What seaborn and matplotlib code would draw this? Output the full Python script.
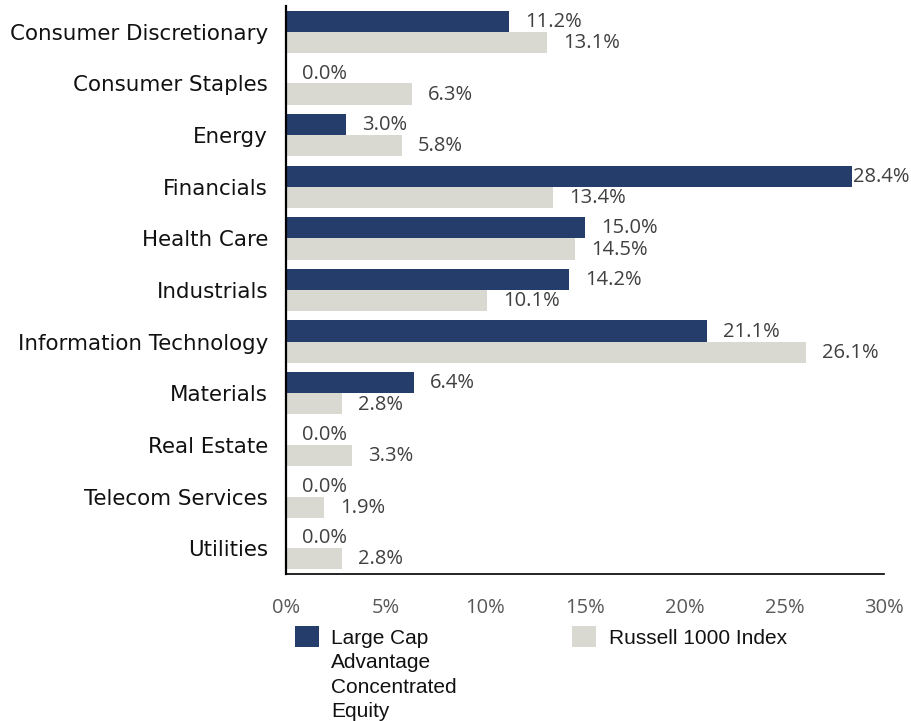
import matplotlib
matplotlib.use("Agg")
import matplotlib.pyplot as plt
from matplotlib.patches import Rectangle
import seaborn as sns
import pandas as pd

categories = ["Consumer Discretionary", "Consumer Staples", "Energy", "Financials",
              "Health Care", "Industrials", "Information Technology", "Materials",
              "Real Estate", "Telecom Services", "Utilities"]
fund_values = [11.2, 0.0, 3.0, 28.4, 15.0, 14.2, 21.1, 6.4, 0.0, 0.0, 0.0]
index_values = [13.1, 6.3, 5.8, 13.4, 14.5, 10.1, 26.1, 2.8, 3.3, 1.9, 2.8]
series_names = ["Large Cap\nAdvantage\nConcentrated\nEquity", "Russell 1000 Index"]
x_ticks = [0, 5, 10, 15, 20, 25, 30]
x_tick_labels = ["0%", "5%", "10%", "15%", "20%", "25%", "30%"]

colors = ["#253D6A", "#D9D9D2"]

df = pd.DataFrame({
    "Sector": categories * 2,
    "Weight": fund_values + index_values,
    "Series": [series_names[0]] * len(categories) + [series_names[1]] * len(categories),
})

sns.set_style("white")
fig = plt.figure(figsize=(9.12, 7.21), dpi=100)
ax = fig.add_axes([286 / 912, 1 - 574 / 721, (884 - 286) / 912, (574 - 6) / 721])

sns.barplot(data=df, y="Sector", x="Weight", hue="Series", orient="h",
            palette=colors, width=0.82, gap=0, ax=ax, legend=False,
            errorbar=None, saturation=1, edgecolor="none")

ax.set_xlim(0, 30)
ax.set_ylim(len(categories) - 0.5, -0.5)
ax.set_xticks(x_ticks)
ax.set_xticklabels(x_tick_labels, fontfamily="Open Sans", fontsize=14.5, color="#595959")
ax.set_yticks(range(len(categories)))
ax.set_yticklabels(categories, fontfamily="DejaVu Sans", fontsize=15.4, color="#111111")
ax.tick_params(axis="x", length=0, pad=17)
ax.tick_params(axis="y", length=0, pad=13)
ax.set_xlabel("")
ax.set_ylabel("")
for s in ["top", "right"]:
    ax.spines[s].set_visible(False)
ax.spines["left"].set_color("black")
ax.spines["left"].set_linewidth(1.6)
ax.spines["bottom"].set_color("black")
ax.spines["bottom"].set_linewidth(1.2)

for container, vals in zip(ax.containers, [fund_values, index_values]):
    for patch, v in zip(container.patches, vals):
        yc = patch.get_y() + patch.get_height() / 2
        pad = 0.5 if v > 27 else 11.5
        ax.annotate(f"{v:.1f}%", (v, yc), xytext=(pad, -0.5), textcoords="offset points",
                    ha="left", va="center", fontfamily="Open Sans", fontsize=14.5,
                    color="#404040", annotation_clip=False)

# legend
fig.patches.append(Rectangle((295 / 912, 1 - 647 / 721), 24 / 912, 21 / 721,
                             transform=fig.transFigure, facecolor=colors[0], edgecolor="none"))
fig.patches.append(Rectangle((572 / 912, 1 - 647 / 721), 24 / 912, 21 / 721,
                             transform=fig.transFigure, facecolor=colors[1], edgecolor="none"))
fig.text(331 / 912, 1 - 629 / 721, series_names[0], ha="left", va="top",
         fontfamily="Liberation Sans", fontsize=15, color="#111111", linespacing=1.36)
fig.text(609 / 912, 1 - 629 / 721, series_names[1], ha="left", va="top",
         fontfamily="Liberation Sans", fontsize=15, color="#111111")

fig.savefig("out.png", dpi=100)
